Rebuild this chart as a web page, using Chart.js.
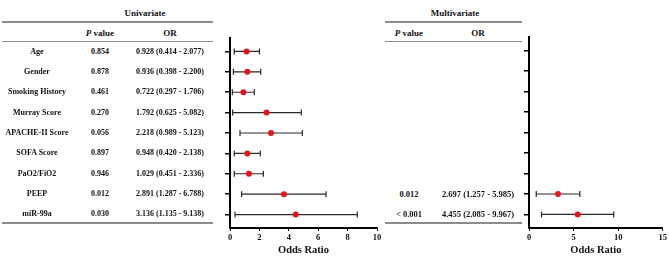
<!DOCTYPE html>
<html>
<head>
<meta charset="utf-8">
<script src="https://cdn.jsdelivr.net/npm/chart.js@4.4.1/dist/chart.umd.min.js"></script>
<style>
    body { margin: 0; background: #fff; }
    #wrap { position: relative; width: 669px; height: 256px; overflow: hidden;
            font-family: "Liberation Serif", "Times New Roman", serif; font-weight: bold; color: #111; }
    .t { position: absolute; transform: translate(-50%, -50%); white-space: nowrap; font-size: 8px; line-height: 1; }
    .h { font-size: 9px; }
    .m { font-size: 8.5px; }
    .rule { position: absolute; height: 1.5px; background: #8c8c8c; }
    canvas { position: absolute; top: 0; }
</style>
</head>
<body>
<div id="wrap">
    <canvas id="uniChart" style="left:200px" width="190" height="256"></canvas>
    <canvas id="multiChart" style="left:500px" width="169" height="256"></canvas>
</div>
<script>
// === DATOS ===
const variables = ["Age", "Gender", "Smoking History", "Murray Score", "APACHE-II Score",
                   "SOFA Score", "PaO2/FiO2", "PEEP", "miR-99a"];
const uniP = ["0.854", "0.878", "0.461", "0.270", "0.056", "0.897", "0.946", "0.012", "0.030"];
const uniOR = ["0.928 (0.414 - 2.077)", "0.936 (0.398 - 2.200)", "0.722 (0.297 - 1.706)",
               "1.792 (0.625 - 5.082)", "2.218 (0.989 - 5.123)", "0.948 (0.420 - 2.138)",
               "1.029 (0.451 - 2.336)", "2.891 (1.287 - 6.788)", "3.136 (1.135 - 9.138)"];
const multiP = ["", "", "", "", "", "", "", "0.012", "< 0.001"];
const multiOR = ["", "", "", "", "", "", "", "2.697 (1.257 - 5.985)", "4.455 (2.085 - 9.967)"];

// valores tal como aparecen dibujados en el forest plot
const uniPoint = [1.13, 1.18, 0.91, 2.49, 2.79, 1.18, 1.29, 3.67, 4.47];
const uniLow   = [0.29, 0.23, 0.16, 0.18, 0.68, 0.29, 0.29, 0.79, 0.34];
const uniHigh  = [2.00, 2.09, 1.65, 4.85, 4.92, 2.06, 2.27, 6.53, 8.66];
const multiPoint = [null, null, null, null, null, null, null, 3.25, 5.46];
const multiLow   = [null, null, null, null, null, null, null, 0.81, 1.40];
const multiHigh  = [null, null, null, null, null, null, null, 5.70, 9.50];

const uniTicks = [0, 2, 4, 6, 8, 10];
const multiTicks = [0, 5, 10, 15];

// === TABLAS (texto) ===
const ROW_TOP = 51.7, ROW_GAP = 20.32;
const wrap = document.getElementById("wrap");

function addText(txt, x, y, cls) {
    const el = document.createElement("div");
    el.className = "t" + (cls ? " " + cls : "");
    el.style.left = x + "px";
    el.style.top = y + "px";
    el.innerHTML = txt;
    wrap.appendChild(el);
}
function addRule(x1, x2, y, h) {
    const el = document.createElement("div");
    el.className = "rule";
    el.style.left = x1 + "px";
    el.style.width = (x2 - x1) + "px";
    el.style.top = y + "px";
    if (h) el.style.height = h + "px";
    wrap.appendChild(el);
}

addText("Univariate", 145, 12.5, "h");
addText("<i>P</i> value", 100, 32.5, "h");
addText("OR", 170, 32.5, "h");
addText("Multivariate", 455, 12.5, "h");
addText("<i>P</i> value", 409, 32.5, "h");
addText("OR", 478, 32.5, "h");

variables.forEach((name, i) => {
    const y = ROW_TOP + i * ROW_GAP;
    addText(name, 37, y);
    addText(uniP[i], 100, y);
    addText(uniOR[i], 170, y);
    if (multiP[i]) addText(multiP[i], 409, y, "m");
    if (multiOR[i]) addText(multiOR[i], 478, y, "m");
});

addRule(2, 213, 21);
addRule(2, 213, 40.5);
addRule(2, 213, 222, 2);
addRule(385, 522, 21);
addRule(385, 522, 40.5);
addRule(385, 522, 222, 2);

// === GRAFICOS ===
Chart.defaults.font.family = "'Liberation Serif', 'Times New Roman', serif";
Chart.defaults.font.weight = "bold";
Chart.defaults.color = "#111";

// barras de error con las escalas del propio chart
const errorBars = {
    id: "errorBars",
    beforeDatasetsDraw(chart, args, opts) {
        const { ctx, scales: { x, y } } = chart;
        ctx.save();
        ctx.strokeStyle = "#2a2a2a";
        ctx.lineWidth = 1.2;
        opts.low.forEach((lo, i) => {
            if (lo === null) return;
            const py = y.getPixelForValue(i);
            const x1 = x.getPixelForValue(lo);
            const x2 = x.getPixelForValue(opts.high[i]);
            ctx.beginPath();
            ctx.moveTo(x1, py); ctx.lineTo(x2, py);
            ctx.moveTo(x1, py - 3); ctx.lineTo(x1, py + 3);
            ctx.moveTo(x2, py - 3); ctx.lineTo(x2, py + 3);
            ctx.stroke();
        });
        ctx.restore();
    }
};

function buildForest(id, points, low, high, ticks, pad, yWidth) {
    const data = points.map((v, i) => v === null ? null : ({ x: v, y: i })).filter(Boolean);
    return new Chart(document.getElementById(id), {
        type: "scatter",
        data: {
            datasets: [{
                data: data,
                pointRadius: 3,
                pointHoverRadius: 3,
                backgroundColor: "#e5141b",
                borderWidth: 0
            }]
        },
        options: {
            responsive: false,
            animation: false,
            layout: { padding: pad },
            plugins: {
                legend: { display: false },
                tooltip: { enabled: false },
                errorBars: { low: low, high: high }
            },
            scales: {
                x: {
                    type: "linear",
                    min: ticks[0],
                    max: ticks[ticks.length - 1],
                    afterBuildTicks: (s) => { s.ticks = ticks.map(v => ({ value: v })); },
                    afterFit: (s) => { s.height = 28; },
                    ticks: { font: { size: 8.5, weight: "bold" }, padding: 2 },
                    grid: { drawOnChartArea: false, tickLength: 3, color: "#000", lineWidth: 1 },
                    border: { color: "#000", width: 2 },
                    title: {
                        display: true, text: "Odds Ratio",
                        font: { size: 10.5, weight: "bold", lineHeight: 1 },
                        padding: 0
                    }
                },
                y: {
                    type: "linear",
                    reverse: true,
                    min: -0.66,
                    max: variables.length - 1 + 0.66,
                    afterBuildTicks: (s) => { s.ticks = variables.map((_, i) => ({ value: i })); },
                    afterFit: (s) => { s.width = yWidth; },
                    ticks: { display: false },
                    grid: { drawOnChartArea: false, tickLength: 5, color: "#000", lineWidth: 1.5 },
                    border: { color: "#000", width: 2 }
                }
            }
        },
        plugins: [errorBars]
    });
}

buildForest("uniChart", uniPoint, uniLow, uniHigh, uniTicks, { top: 38, right: 13, left: 0, bottom: 0 }, 30);
buildForest("multiChart", multiPoint, multiLow, multiHigh, multiTicks, { top: 37, right: 5, left: 0, bottom: 0 }, 29);
</script>
</body>
</html>
